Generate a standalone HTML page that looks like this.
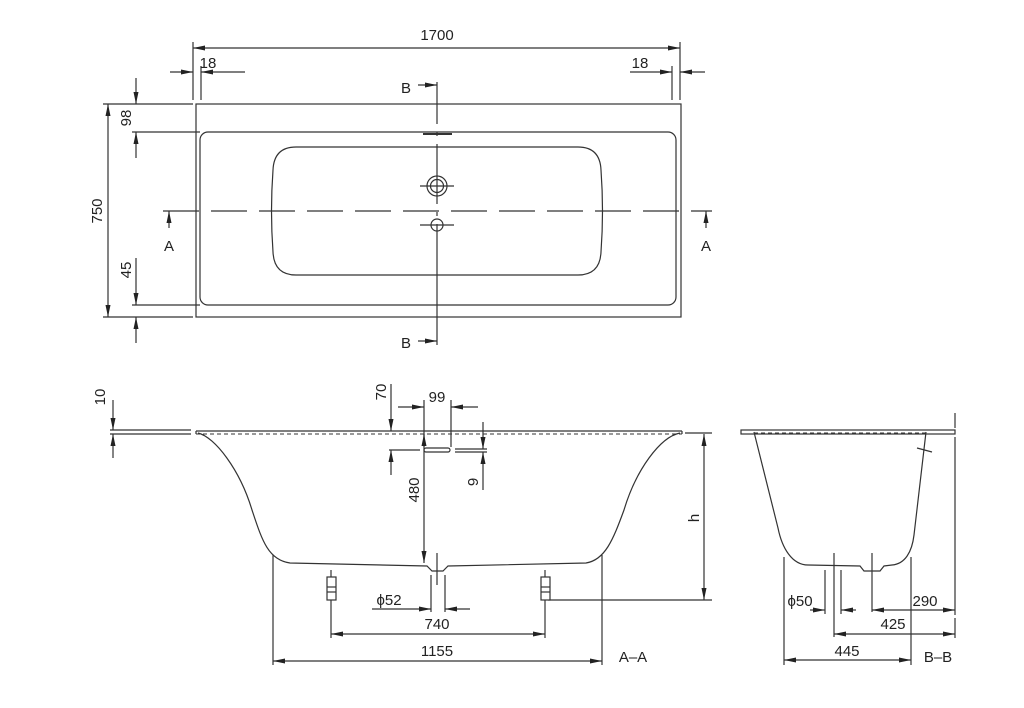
<!DOCTYPE html>
<html><head><meta charset="utf-8"><style>
html,body{margin:0;padding:0;background:#fff;width:1024px;height:708px;overflow:hidden}
svg text{font-family:"Liberation Sans Narrow","Liberation Sans",sans-serif;fill:#222;font-size:15px}
</style></head><body>
<svg width="1024" height="708" viewBox="0 0 1024 708" xmlns="http://www.w3.org/2000/svg">
<defs>
<marker id="a" viewBox="0 0 12 6" refX="12" refY="3" markerWidth="12" markerHeight="6" markerUnits="userSpaceOnUse" orient="auto-start-reverse"><path d="M0,0.5 L12,3 L0,5.5z" fill="#222"/></marker>
</defs>
<g stroke="#333" stroke-width="1.2" fill="none">
<line x1="193" y1="48" x2="680" y2="48" marker-start="url(#a)" marker-end="url(#a)"/>
<line x1="193" y1="42" x2="193" y2="100"/><line x1="680" y1="42" x2="680" y2="100"/>
<line x1="170" y1="72" x2="193" y2="72" marker-end="url(#a)"/>
<line x1="245" y1="72" x2="201" y2="72" marker-end="url(#a)"/>
<line x1="201" y1="66" x2="201" y2="100"/>
<line x1="630" y1="72" x2="672" y2="72" marker-end="url(#a)"/>
<line x1="705" y1="72" x2="680" y2="72" marker-end="url(#a)"/>
<line x1="672" y1="66" x2="672" y2="100"/>
<rect x="196" y="104" width="485" height="213"/>
<rect x="200" y="132" width="476" height="173" rx="8"/>
<path d="M296,147 H578 Q600,147 601,170 Q604,211 601,252 Q600,275 578,275 H296 Q274,275 273,252 Q270,211 273,170 Q274,147 296,147z"/>
<line x1="437" y1="82" x2="437" y2="345" stroke-dasharray="42,8,4,8,60,8,4,8,200"/>
<line x1="423" y1="134" x2="452" y2="134" stroke-width="2"/>
<circle cx="437" cy="186" r="10"/><circle cx="437" cy="186" r="6.5"/>
<line x1="420" y1="186" x2="454" y2="186"/>
<circle cx="437" cy="225" r="6"/><line x1="420" y1="225" x2="454" y2="225"/>
<line x1="163" y1="211" x2="712" y2="211" stroke-dasharray="36,12"/>
<line x1="169" y1="228" x2="169" y2="211" marker-end="url(#a)"/>
<line x1="706" y1="228" x2="706" y2="211" marker-end="url(#a)"/>
<line x1="418" y1="85" x2="437" y2="85" marker-end="url(#a)"/>
<line x1="418" y1="341" x2="437" y2="341" marker-end="url(#a)"/>
<line x1="108" y1="104" x2="108" y2="317" marker-start="url(#a)" marker-end="url(#a)"/>
<line x1="103" y1="104" x2="193" y2="104"/><line x1="103" y1="317" x2="193" y2="317"/>
<line x1="132" y1="132" x2="200" y2="132"/><line x1="132" y1="305" x2="200" y2="305"/>
<line x1="136" y1="78" x2="136" y2="104" marker-end="url(#a)"/>
<line x1="136" y1="158" x2="136" y2="132" marker-end="url(#a)"/>
<line x1="136" y1="258" x2="136" y2="305" marker-end="url(#a)"/>
<line x1="136" y1="343" x2="136" y2="317" marker-end="url(#a)"/>
<line x1="110" y1="430" x2="191" y2="430"/><line x1="110" y1="434" x2="191" y2="434"/>
<line x1="196" y1="431" x2="682" y2="431"/>
<line x1="196" y1="434" x2="682" y2="434" stroke-dasharray="4,3" stroke-width="1"/>
<path d="M196,431 V434 M682,431 V434"/>
<path d="M198,433 C215,437 240,470 252,510 C262,540 268,560 290,563 L427,566 L432,571 H443 L448,566 L586,563 C605,560 613,540 624,510 C636,470 660,437 680,433"/>
<line x1="113" y1="400" x2="113" y2="430" marker-end="url(#a)"/>
<line x1="113" y1="458" x2="113" y2="434" marker-end="url(#a)"/>
<line x1="391" y1="384" x2="391" y2="431" marker-end="url(#a)"/>
<line x1="391" y1="475" x2="391" y2="450" marker-end="url(#a)"/>
<line x1="389" y1="450" x2="420" y2="450"/>
<line x1="424" y1="400" x2="424" y2="447"/><line x1="451" y1="400" x2="451" y2="447"/>
<line x1="398" y1="407" x2="424" y2="407" marker-end="url(#a)"/>
<line x1="478" y1="407" x2="451" y2="407" marker-end="url(#a)"/>
<rect x="424" y="448" width="26" height="4" rx="2"/>
<line x1="455" y1="449" x2="487" y2="449"/><line x1="455" y1="452" x2="487" y2="452"/>
<line x1="483" y1="422" x2="483" y2="449" marker-end="url(#a)"/>
<line x1="483" y1="490" x2="483" y2="452" marker-end="url(#a)"/>
<line x1="424" y1="434" x2="424" y2="563" marker-start="url(#a)" marker-end="url(#a)"/>
<line x1="704" y1="434" x2="704" y2="600" marker-start="url(#a)" marker-end="url(#a)"/>
<line x1="685" y1="433" x2="712" y2="433"/><line x1="548" y1="600" x2="712" y2="600"/>
<line x1="437" y1="553" x2="437" y2="585"/>
<line x1="431" y1="575" x2="431" y2="612"/><line x1="445" y1="575" x2="445" y2="612"/>
<line x1="372" y1="609" x2="431" y2="609" marker-end="url(#a)"/>
<line x1="470" y1="609" x2="445" y2="609" marker-end="url(#a)"/>
<line x1="331" y1="570" x2="331" y2="638"/><line x1="545" y1="570" x2="545" y2="638"/>
<rect x="327" y="577" width="9" height="23" fill="#fff"/><line x1="327" y1="587" x2="336" y2="587"/><line x1="327" y1="592" x2="336" y2="592"/>
<rect x="541" y="577" width="9" height="23" fill="#fff"/><line x1="541" y1="587" x2="550" y2="587"/><line x1="541" y1="592" x2="550" y2="592"/>
<line x1="331" y1="634" x2="545" y2="634" marker-start="url(#a)" marker-end="url(#a)"/>
<line x1="273" y1="555" x2="273" y2="665"/><line x1="602" y1="555" x2="602" y2="665"/>
<line x1="273" y1="661" x2="602" y2="661" marker-start="url(#a)" marker-end="url(#a)"/>
<rect x="741" y="430" width="214" height="4"/>
<line x1="754" y1="433" x2="926" y2="433" stroke-dasharray="4,3" stroke-width="1"/>
<path d="M754,432 L778,528 C782,548 792,565 808,565 L860,566 L864,571 H880 L884,566 L892,565 C905,564 912,552 914,535 L926,432"/>
<line x1="917" y1="448" x2="932" y2="452"/>
<line x1="955" y1="413" x2="955" y2="428"/><line x1="955" y1="437" x2="955" y2="615"/><line x1="955" y1="618" x2="955" y2="638"/>
<line x1="784" y1="557" x2="784" y2="665"/><line x1="911" y1="557" x2="911" y2="665"/>
<line x1="834" y1="553" x2="834" y2="637"/><line x1="872" y1="553" x2="872" y2="612"/>
<line x1="825" y1="570" x2="825" y2="614"/><line x1="841" y1="570" x2="841" y2="614"/>
<line x1="810" y1="610" x2="825" y2="610" marker-end="url(#a)"/>
<line x1="856" y1="610" x2="841" y2="610" marker-end="url(#a)"/>
<line x1="872" y1="610" x2="955" y2="610" marker-start="url(#a)" marker-end="url(#a)"/>
<line x1="834" y1="634" x2="955" y2="634" marker-start="url(#a)" marker-end="url(#a)"/>
<line x1="784" y1="660" x2="911" y2="660" marker-start="url(#a)" marker-end="url(#a)"/>
</g>
<g>
<text x="437" y="40" text-anchor="middle">1700</text>
<text x="208" y="68" text-anchor="middle">18</text>
<text x="640" y="68" text-anchor="middle">18</text>
<text x="406" y="93" text-anchor="middle" font-size="19">B</text>
<text x="406" y="348" text-anchor="middle" font-size="19">B</text>
<text x="169" y="251" text-anchor="middle" font-size="18">A</text>
<text x="706" y="251" text-anchor="middle" font-size="18">A</text>
<text transform="translate(102,211) rotate(-90)" text-anchor="middle">750</text>
<text transform="translate(131,118) rotate(-90)" text-anchor="middle">98</text>
<text transform="translate(131,270) rotate(-90)" text-anchor="middle">45</text>
<text transform="translate(105,397) rotate(-90)" text-anchor="middle">10</text>
<text transform="translate(386,392) rotate(-90)" text-anchor="middle">70</text>
<text x="437" y="402" text-anchor="middle">99</text>
<text transform="translate(478,482) rotate(-90)" text-anchor="middle">9</text>
<text transform="translate(419,490) rotate(-90)" text-anchor="middle">480</text>
<text transform="translate(699,518) rotate(-90)" text-anchor="middle">h</text>
<text x="389" y="605" text-anchor="middle">ϕ52</text>
<text x="437" y="629" text-anchor="middle">740</text>
<text x="437" y="656" text-anchor="middle">1155</text>
<text x="633" y="662" text-anchor="middle" font-size="18">A–A</text>
<text x="800" y="606" text-anchor="middle">ϕ50</text>
<text x="925" y="606" text-anchor="middle">290</text>
<text x="893" y="629" text-anchor="middle">425</text>
<text x="847" y="656" text-anchor="middle">445</text>
<text x="938" y="662" text-anchor="middle" font-size="18">B–B</text>
</g>
</svg>
</body></html>
